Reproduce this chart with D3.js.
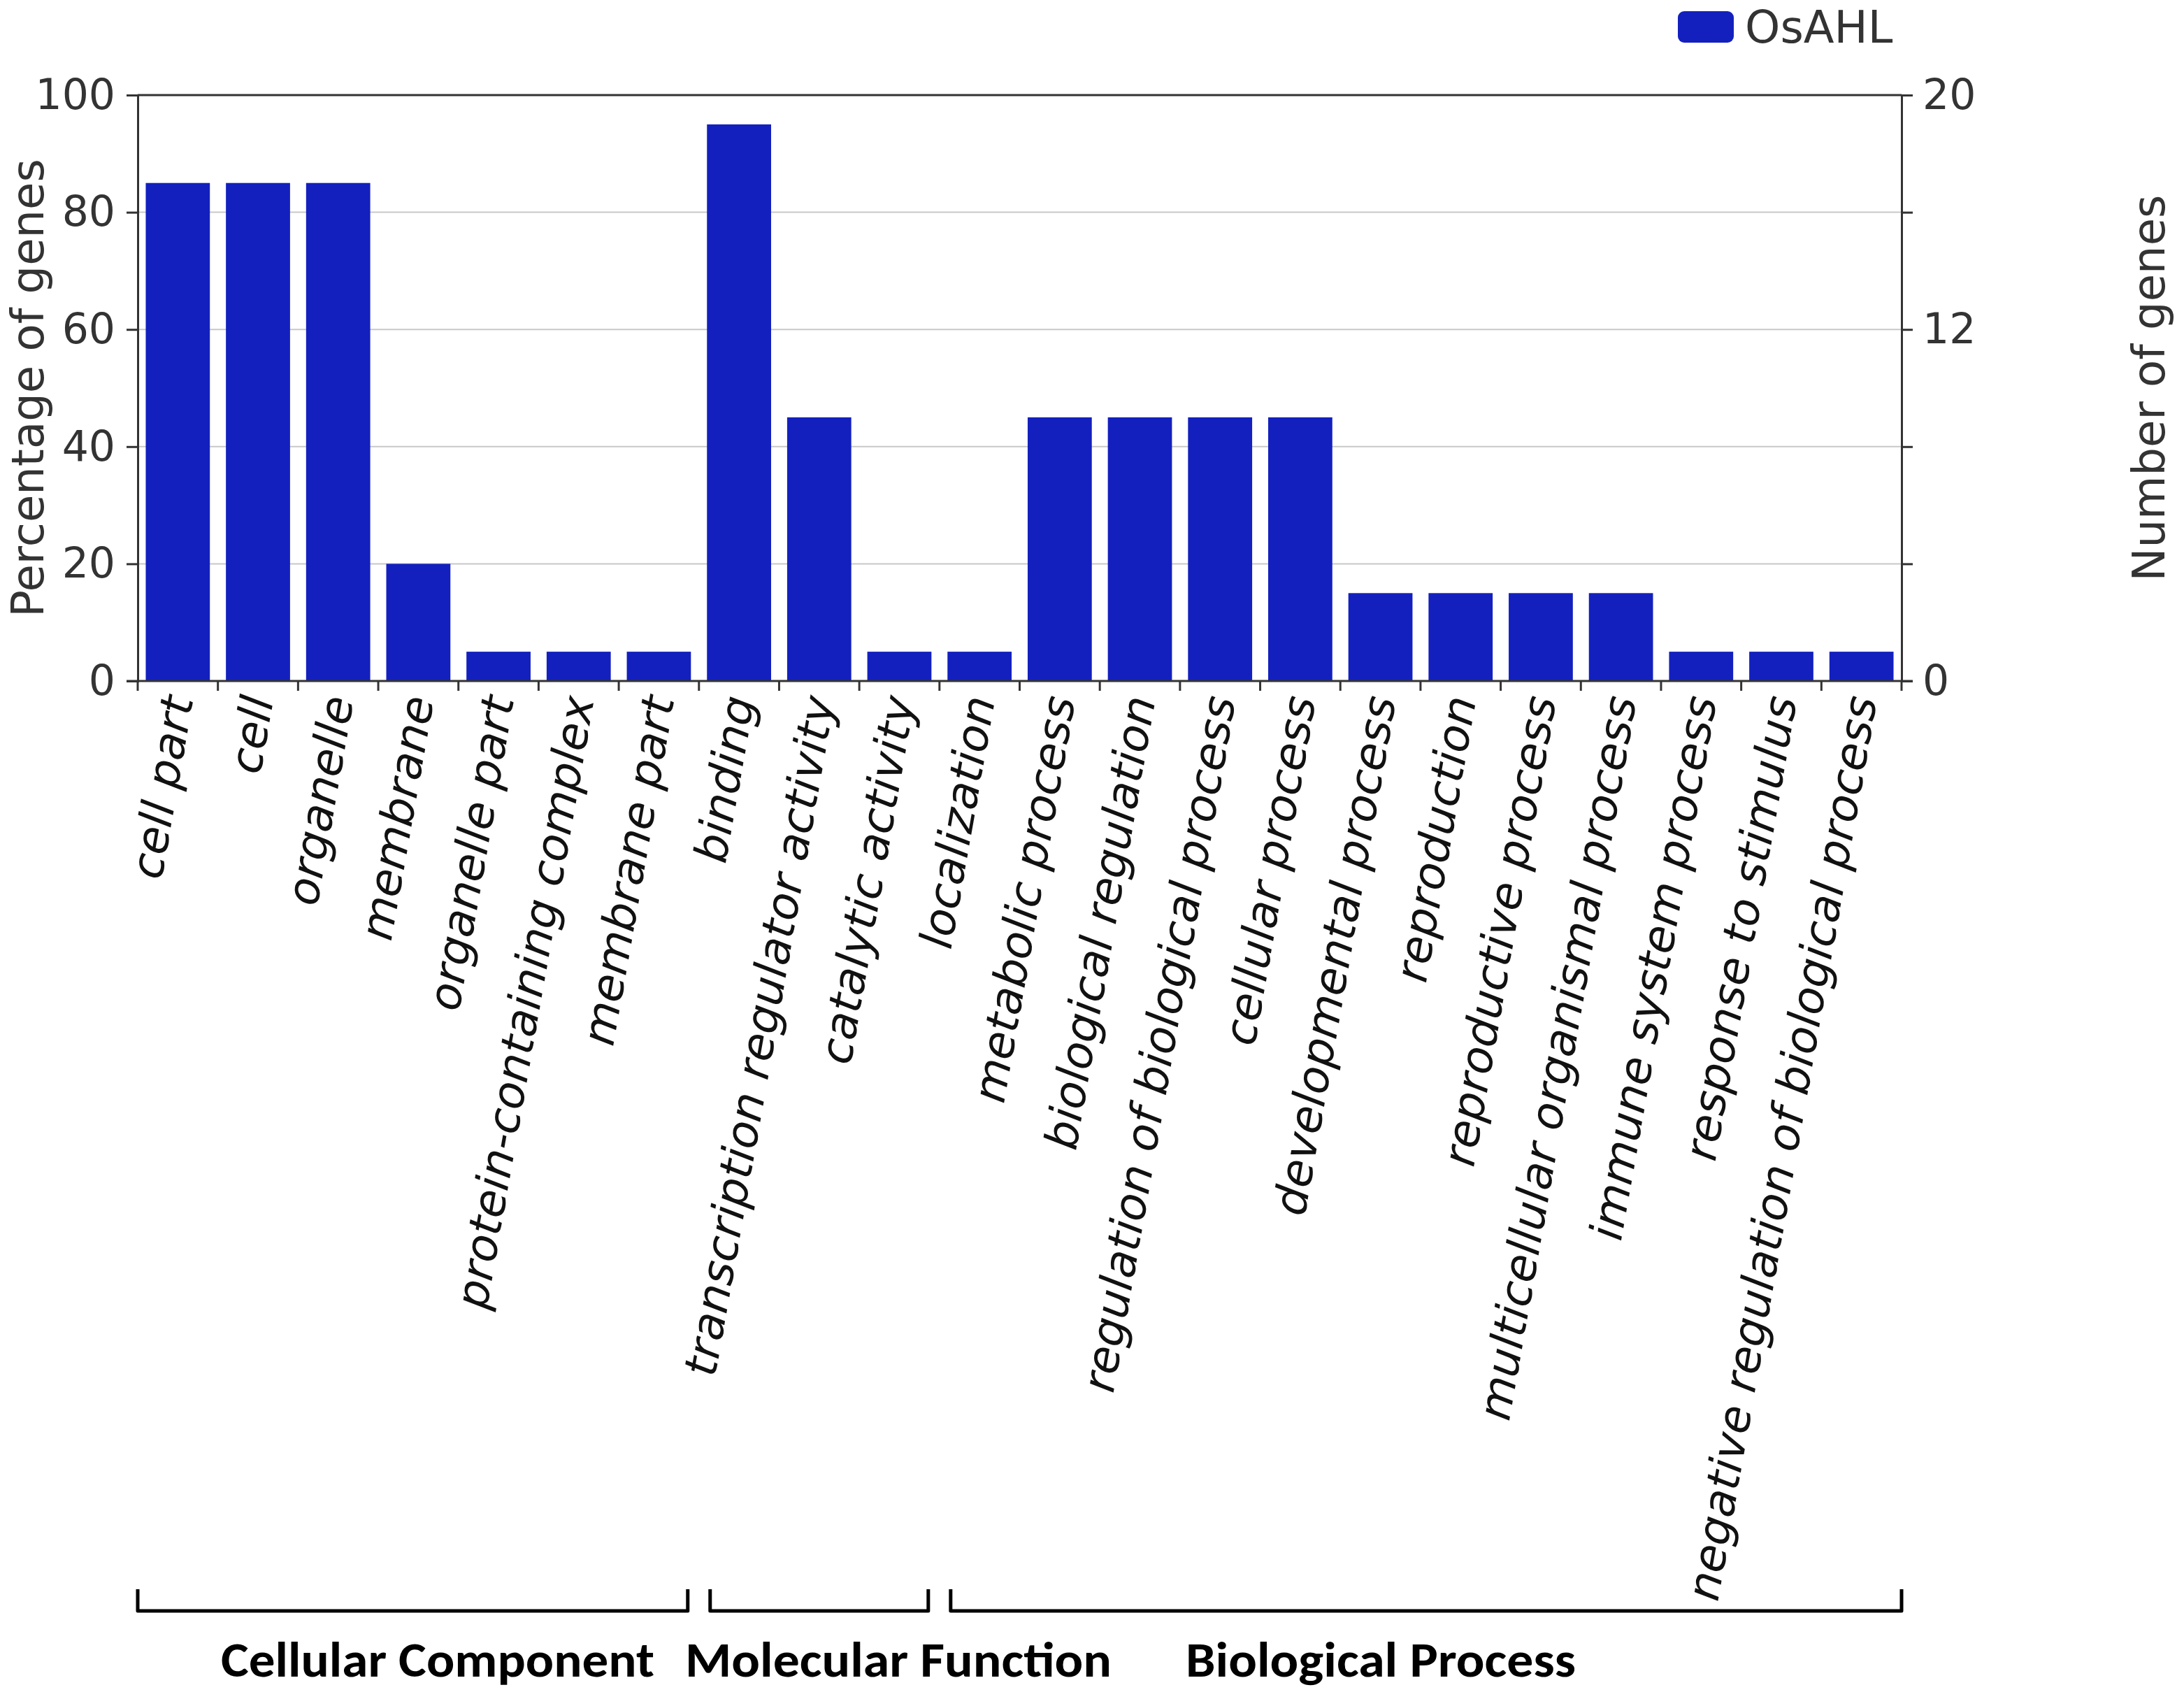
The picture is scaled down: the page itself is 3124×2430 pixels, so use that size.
<!DOCTYPE html>
<html>
<head>
<meta charset="utf-8">
<script src="https://cdn.jsdelivr.net/npm/d3@7"></script>
<style>
  body { margin: 0; background: #fff; }
  svg { display: block; }
</style>
</head>
<body>
<svg id="chart" width="3124" height="2430"></svg>
<script>
const categories = [
  "cell part", "cell", "organelle", "membrane", "organelle part",
  "protein-containing complex", "membrane part", "binding",
  "transcription regulator activity", "catalytic activity", "localization",
  "metabolic process", "biological regulation", "regulation of biological process",
  "cellular process", "developmental process", "reproduction", "reproductive process",
  "multicellular organismal process", "immune system process",
  "response to stimulus", "negative regulation of biological process"
];
const percentValues = [85, 85, 85, 20, 5, 5, 5, 95, 45, 5, 5, 45, 45, 45, 45, 15, 15, 15, 15, 5, 5, 5];
const leftTicks = [0, 20, 40, 60, 80, 100];
const rightTicks = [0, 4, 8, 12, 16, 20];
const rightTickLabels = [0, 12, 20];
const groupNames = ["Cellular Component", "Molecular Function", "Biological Process"];
const groupFirst = [0, 7, 10];
const groupLast = [6, 9, 21];
const seriesName = "OsAHL";

const size = { width: 3124, height: 2430 };
const margin = { top: 136, right: 404, bottom: 1456, left: 197 };
const barColor = "#1320be";
const axisColor = "#333";
const font = "'DejaVu Sans', Verdana, sans-serif";

const svg = d3.select("#chart");

const xScale = d3
  .scaleBand()
  .domain(categories)
  .range([margin.left, size.width - margin.right])
  .paddingInner(0.2)
  .paddingOuter(0.1);

const yScale = d3
  .scaleLinear()
  .domain([0, 100])
  .range([size.height - margin.bottom, margin.top]);

const yRight = d3
  .scaleLinear()
  .domain([0, 20])
  .range([size.height - margin.bottom, margin.top]);

const step = xScale.step();
const bandStart = (i) => margin.left + i * step;
const x0 = margin.left;
const x1 = size.width - margin.right;
const yBase = yScale(0);

// grid lines
svg
  .append("g")
  .selectAll("line")
  .data(leftTicks.filter((t) => t > 0 && t < 100))
  .enter()
  .append("line")
  .attr("x1", x0)
  .attr("x2", x1)
  .attr("y1", (d) => yScale(d))
  .attr("y2", (d) => yScale(d))
  .attr("stroke", "#c8c8c8")
  .attr("stroke-width", 2);

// bars
svg
  .append("g")
  .selectAll(".bar")
  .data(categories)
  .enter()
  .append("rect")
  .classed("bar", true)
  .attr("x", (d) => xScale(d))
  .attr("width", xScale.bandwidth())
  .attr("y", (d, i) => yScale(percentValues[i]))
  .attr("height", (d, i) => yBase - yScale(percentValues[i]))
  .attr("fill", barColor);

// frame top
svg
  .append("line")
  .attr("x1", x0)
  .attr("x2", x1)
  .attr("y1", yScale(100))
  .attr("y2", yScale(100))
  .attr("stroke", axisColor)
  .attr("stroke-width", 3);

// left axis
const leftAxis = svg
  .append("g")
  .attr("transform", `translate(${x0},0)`)
  .call(d3.axisLeft(yScale).tickValues(leftTicks).tickSize(16).tickPadding(16));

// right axis
const rightAxis = svg
  .append("g")
  .attr("transform", `translate(${x1},0)`)
  .call(
    d3
      .axisRight(yRight)
      .tickValues(rightTicks)
      .tickSize(16)
      .tickPadding(14)
      .tickFormat((d) => (rightTickLabels.includes(d) ? d : ""))
  );

[leftAxis, rightAxis].forEach((ax) => {
  ax.select(".domain").attr("stroke", axisColor).attr("stroke-width", 3);
  ax.selectAll(".tick line").attr("stroke", axisColor).attr("stroke-width", 3);
  ax.selectAll(".tick text")
    .style("font-family", font)
    .style("font-size", "60px")
    .attr("fill", axisColor);
});

// bottom axis line + boundary ticks
svg
  .append("line")
  .attr("x1", x0 - 16)
  .attr("x2", x1 + 16)
  .attr("y1", yBase)
  .attr("y2", yBase)
  .attr("stroke", axisColor)
  .attr("stroke-width", 3);

svg
  .append("g")
  .selectAll("line")
  .data(d3.range(categories.length + 1))
  .enter()
  .append("line")
  .attr("x1", (i) => bandStart(i))
  .attr("x2", (i) => bandStart(i))
  .attr("y1", yBase)
  .attr("y2", yBase + 14)
  .attr("stroke", axisColor)
  .attr("stroke-width", 3);

// category labels
svg
  .append("g")
  .selectAll("text")
  .data(categories)
  .enter()
  .append("text")
  .attr(
    "transform",
    (d) => `translate(${xScale(d) + xScale.bandwidth() / 2},${yBase + 22}) rotate(-80)`
  )
  .attr("text-anchor", "end")
  .attr("dy", "0.35em")
  .style("font-family", font)
  .style("font-style", "italic")
  .style("font-size", "64.5px")
  .attr("fill", "#111")
  .text((d) => d);

// axis titles
svg
  .append("text")
  .attr("transform", `translate(62,${(yScale(0) + yScale(100)) / 2}) rotate(-90)`)
  .attr("text-anchor", "middle")
  .style("font-family", font)
  .style("font-size", "64px")
  .attr("fill", axisColor)
  .text("Percentage of genes");

svg
  .append("text")
  .attr("transform", `translate(3096,${(yScale(0) + yScale(100)) / 2}) rotate(-90)`)
  .attr("text-anchor", "middle")
  .style("font-family", font)
  .style("font-size", "64px")
  .attr("fill", axisColor)
  .text("Number of genes");

// legend
const legend = svg.append("g").attr("transform", "translate(2400,16)");
legend
  .append("rect")
  .attr("width", 80)
  .attr("height", 45)
  .attr("rx", 9)
  .attr("fill", barColor);
legend
  .append("text")
  .attr("x", 96)
  .attr("y", 45)
  .style("font-family", font)
  .style("font-size", "64px")
  .attr("fill", axisColor)
  .text(seriesName);

// group brackets
const bracketTop = 2273;
const bracketY = 2304;
const inset = 16;
const groupLabelX = [626, 1285, 1975];

groupNames.forEach((name, g) => {
  const left = bandStart(groupFirst[g]) + (groupFirst[g] === 0 ? 0 : inset);
  const right = bandStart(groupLast[g] + 1) - (groupLast[g] === categories.length - 1 ? 0 : inset);
  svg
    .append("path")
    .attr("d", `M${left},${bracketTop}V${bracketY}H${right}V${bracketTop}`)
    .attr("fill", "none")
    .attr("stroke", "#000")
    .attr("stroke-width", 5)
    .attr("stroke-linejoin", "round");

  svg
    .append("text")
    .attr("x", groupLabelX[g])
    .attr("y", 2398)
    .attr("text-anchor", "middle")
    .attr("textLength", [620, 610, 558][g])
    .attr("lengthAdjust", "spacingAndGlyphs")
    .style("font-family", "Carlito, Calibri, 'Open Sans', sans-serif")
    .style("font-weight", "bold")
    .style("font-size", "70px")
    .attr("fill", "#000")
    .text(name);
});
</script>
</body>
</html>
